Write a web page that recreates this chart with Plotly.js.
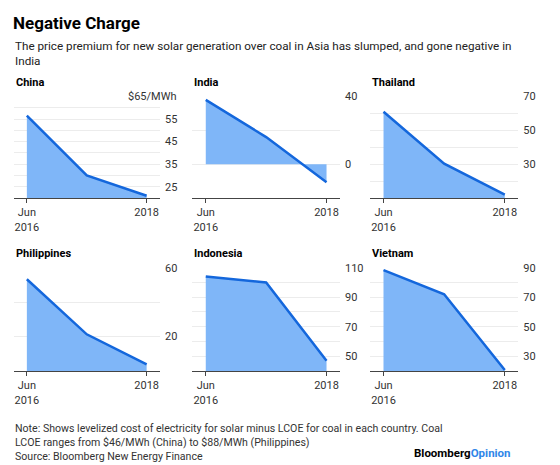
<!DOCTYPE html>
<html>
<head>
<meta charset="utf-8">
<script src="https://cdn.plot.ly/plotly-3.0.1.min.js"></script>
<style>
  html, body { margin: 0; padding: 0; background: #fff; }
  #chart { width: 560px; height: 465px; }
</style>
</head>
<body>
<div id="chart"></div>
<script>
// ---- Data ----
const xPoints = [0, 1, 2];
const xTickVals = [0, 2];
const xTickText = ['Jun<br>2016', '2018'];

const countries = ['China', 'India', 'Thailand', 'Philippines', 'Indonesia', 'Vietnam'];

const chinaValues = [56.5, 30, 21];
const indiaValues = [38, 16, -10.7];
const thailandValues = [61, 30.3, 12];
const philippinesValues = [53.3, 21.3, 3.8];
const indonesiaValues = [104, 100, 47];
const vietnamValues = [88.4, 72, 20.7];

const chinaRange = [20, 65];
const indiaRange = [-20, 40];
const thailandRange = [10, 70];
const philippinesRange = [0, 60];
const indonesiaRange = [40, 110];
const vietnamRange = [20, 90];

const chinaGrid = [20, 25, 30, 35, 40, 45, 50, 55, 60, 65];
const chinaLabels = ['', '25', '', '35', '', '45', '', '55', '', ''];
const chinaUnitLabel = '$65/MWh';
const indiaGrid = [-20, 0, 20, 40];
const indiaLabels = ['', '0', '', '40'];
const thailandGrid = [10, 20, 30, 40, 50, 60, 70];
const thailandLabels = ['', '', '30', '', '50', '', '70'];
const philippinesGrid = [0, 20, 40, 60];
const philippinesLabels = ['', '20', '', '60'];
const indonesiaGrid = [40, 50, 60, 70, 80, 90, 100, 110];
const indonesiaLabels = ['', '50', '', '70', '', '90', '', '110'];
const vietnamGrid = [20, 30, 40, 50, 60, 70, 80, 90];
const vietnamLabels = ['', '30', '', '50', '', '70', '', '90'];

const titleText = 'Negative Charge';
const subtitleText = 'The price premium for new solar generation over coal in Asia has slumped, and gone negative in<br>India';
const noteText = 'Note: Shows levelized cost of electricity for solar minus LCOE for coal in each country. Coal<br>LCOE ranges from $46/MWh (China) to $88/MWh (Philippines)<br>Source: Bloomberg New Energy Finance';

// ---- Layout helpers ----
const W = 560, H = 465;
const px = v => v / W;
const py = v => 1 - v / H;

const allValues = [chinaValues, indiaValues, thailandValues, philippinesValues, indonesiaValues, vietnamValues];
const allRanges = [chinaRange, indiaRange, thailandRange, philippinesRange, indonesiaRange, vietnamRange];
const allGrids = [chinaGrid, indiaGrid, thailandGrid, philippinesGrid, indonesiaGrid, vietnamGrid];
const allLabels = [chinaLabels, indiaLabels, thailandLabels, philippinesLabels, indonesiaLabels, vietnamLabels];

const colDomains = [[13.5, 160], [192.3, 340], [370, 518.3]];
const rowDomains = [[96.5, 198], [267.7, 371]];
const panelTitleY = [82.3, 253.5];

const FONT = 'Roboto, "Liberation Sans", Arial, sans-serif';
const LINE = '#1467dc';
const FILL = '#7fb6f8';

const traces = [];
const layout = {
  width: W, height: H,
  margin: {l: 0, r: 0, t: 0, b: 0},
  paper_bgcolor: '#fff', plot_bgcolor: 'rgba(0,0,0,0)',
  showlegend: false,
  font: {family: FONT, color: '#333', size: 11},
  title: {
    text: '<b>' + titleText + '</b>',
    x: px(13), y: py(23.5), xanchor: 'left', yanchor: 'middle', xref: 'paper', yref: 'container',
    font: {family: FONT, size: 17, color: '#000'}
  },
  annotations: [],
};

countries.forEach((name, i) => {
  const r = Math.floor(i / 3), c = i % 3;
  const suffix = i === 0 ? '' : String(i + 1);
  const xa = 'x' + suffix, ya = 'y' + suffix;
  traces.push({
    x: xPoints, y: allValues[i], xaxis: xa, yaxis: ya,
    type: 'scatter', mode: 'lines', fill: 'tozeroy', fillcolor: FILL,
    line: {color: LINE, width: 2.5}, hoverinfo: 'skip'
  });
  const xd = colDomains[c], yd = rowDomains[r];
  layout['xaxis' + suffix] = {
    domain: [px(xd[0]), px(xd[1])], anchor: ya,
    range: [-0.223, 2.223], fixedrange: true,
    tickmode: 'array', tickvals: xTickVals, ticktext: xTickText,
    showgrid: false, zeroline: false,
    showline: true, linecolor: '#444', linewidth: 1,
    ticks: 'outside', ticklen: 4, tickcolor: '#444', tickwidth: 1,
    tickfont: {family: FONT, size: 11, color: '#333'}
  };
  layout['yaxis' + suffix] = {
    domain: [py(yd[1]), py(yd[0])], anchor: xa, side: 'right',
    range: allRanges[i], fixedrange: true,
    tickmode: 'array', tickvals: allGrids[i], ticktext: allLabels[i],
    showgrid: true, gridcolor: '#ececec', gridwidth: 1,
    zeroline: false, showline: false, ticks: '',
    ticklabelstandoff: 4,
    tickfont: {family: FONT, size: 11, color: '#333'}
  };
  layout.annotations.push({
    text: '<b>' + name + '</b>', xref: 'paper', yref: 'paper',
    x: px(xd[0]), y: py(panelTitleY[r]), xanchor: 'left', yanchor: 'middle',
    showarrow: false, font: {family: FONT, size: 11, color: '#000'}
  });
});

// unit label on China's top tick
layout.annotations.push({
  text: chinaUnitLabel, xref: 'paper', yref: 'y',
  x: px(179.5), y: chinaRange[1], xanchor: 'right', yanchor: 'middle',
  showarrow: false, bgcolor: '#fff', borderpad: 2,
  font: {family: FONT, size: 11, color: '#333'}
});

layout.annotations.push({
  text: subtitleText, xref: 'paper', yref: 'paper',
  x: px(13), y: py(36.5), xanchor: 'left', yanchor: 'top', align: 'left',
  showarrow: false, font: {family: FONT, size: 11.7, color: '#222'}
});
layout.annotations.push({
  text: noteText, xref: 'paper', yref: 'paper',
  x: px(13), y: py(419.5), xanchor: 'left', yanchor: 'top', align: 'left',
  showarrow: false, font: {family: FONT, size: 10.6, color: '#333'}
});
layout.annotations.push({
  text: '<b>Bloomberg<span style="color:#2f86e8">Opinion</span></b>', xref: 'paper', yref: 'paper',
  x: px(513), y: py(452.7), xanchor: 'right', yanchor: 'middle',
  showarrow: false, font: {family: FONT, size: 11.5, color: '#000'}
});

Plotly.newPlot('chart', traces, layout, {displayModeBar: false, staticPlot: true});
</script>
</body>
</html>
